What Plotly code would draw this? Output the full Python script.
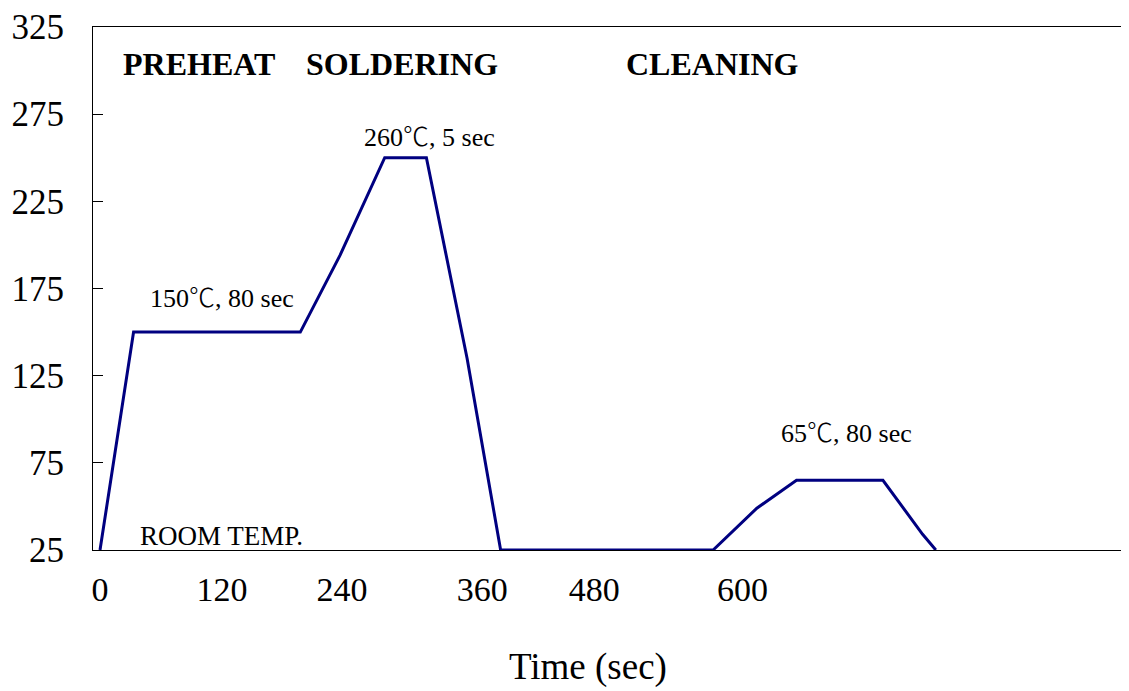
import plotly.graph_objects as go

# Profile data (time in sec, temperature in °C)
time_sec = [0, 33, 197, 236, 280, 321, 361, 394, 603, 646, 685, 770, 809, 822]
temp_c = [25, 150, 150, 194, 250, 250, 135, 25, 25, 49, 65, 65, 34, 25]

# Axis ticks
y_ticks = [25, 75, 125, 175, 225, 275, 325]
x_tick_positions = [0, 120, 238, 376, 486, 632]
x_tick_labels = ["0", "120", "240", "360", "480", "600"]

# Text labels
phase_labels = ["PREHEAT", "SOLDERING", "CLEANING"]
phase_x = [97, 297, 602]
phase_y = [304, 304, 304]
point_labels = ["150℃, 80 sec", "260℃, 5 sec", "65℃, 80 sec", "ROOM TEMP."]
point_x = [120, 324, 734, 119]
point_y = [170.8, 263.5, 93.8, 33.3]
point_sizes = [26, 26, 26, 27]

SERIF = "'Liberation Serif', 'Times New Roman', 'Noto Sans CJK SC', serif"
CJK_SPAN = "<span style=\"font-family:'Noto Sans CJK SC'; font-weight:300\">℃</span>"

fig = go.Figure()
fig.add_trace(go.Scatter(
    x=time_sec, y=temp_c, mode="lines",
    line=dict(color="#000080", width=3),
    cliponaxis=False, showlegend=False, hoverinfo="skip",
))

for txt, x, y in zip(phase_labels, phase_x, phase_y):
    fig.add_annotation(x=x, y=y, xref="x", yref="y", text=f"<b>{txt}</b>",
                       showarrow=False, font=dict(family=SERIF, size=32, color="black"))
for txt, x, y, s in zip(point_labels, point_x, point_y, point_sizes):
    fig.add_annotation(x=x, y=y, xref="x", yref="y", text=txt.replace("℃", CJK_SPAN),
                       showarrow=False, font=dict(family=SERIF, size=s, color="black"))

fig.add_annotation(x=479.5, y=-0.2234, xref="x", yref="paper", text="Time (sec)",
                   yanchor="middle", xanchor="center",
                   showarrow=False, font=dict(family=SERIF, size=37, color="black"))

fig.update_xaxes(
    range=[-6.9, 1012], showgrid=False, zeroline=False,
    showline=True, linecolor="black", linewidth=1, mirror=True,
    tickvals=x_tick_positions, ticktext=x_tick_labels, ticks="",
    tickfont=dict(family=SERIF, size=34, color="black"),
    ticklabelstandoff=9,
)
fig.update_yaxes(
    range=[25, 325], showgrid=False, zeroline=False,
    showline=True, linecolor="black", linewidth=1,
    tickvals=y_ticks, ticks="inside", ticklen=10, tickcolor="black",
    tickfont=dict(family=SERIF, size=35, color="black"),
    ticklabelstandoff=21, ticklabeloverflow="allow",
)
fig.update_layout(
    width=1121, height=683,
    margin=dict(l=85, r=0, t=16, b=141),
    plot_bgcolor="white", paper_bgcolor="white",
)
fig.write_html("out.html")
